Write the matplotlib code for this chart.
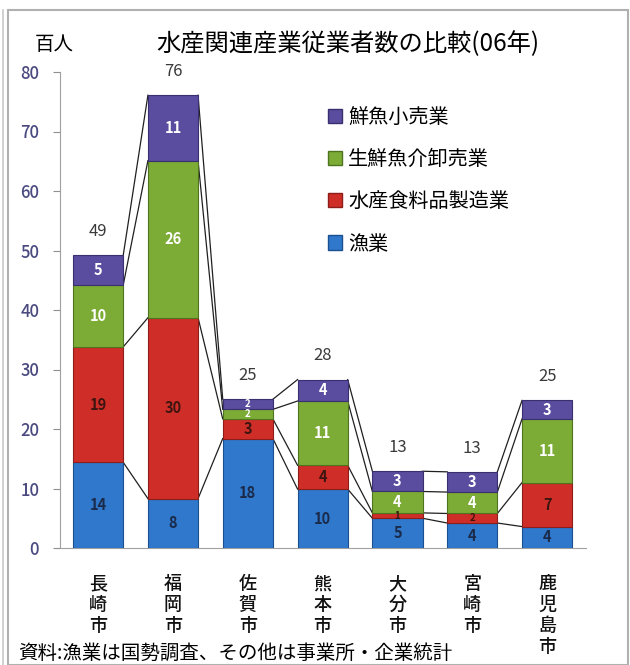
import numpy as np
import matplotlib.pyplot as plt
from matplotlib.patches import Rectangle
from matplotlib.lines import Line2D

plt.rcParams['font.family'] = ['Noto Sans CJK JP', 'DejaVu Sans']

# 都市名(縦書き)
cities = ['長崎市', '福岡市', '佐賀市', '熊本市', '大分市', '宮崎市', '鹿児島市']

# 業種別従業者数(百人)
gyogyo = [14.4, 8.3, 18.4, 9.9, 5.0, 4.2, 3.6]
seizo = [19.4, 30.4, 3.3, 4.0, 0.9, 1.6, 7.4]
oroshi = [10.4, 26.4, 1.6, 10.8, 3.6, 3.6, 10.7]
kouri = [5.0, 11.0, 1.7, 3.6, 3.4, 3.4, 3.1]

series_names = ['漁業', '水産食料品製造業', '生鮮魚介卸売業', '鮮魚小売業']
series = [gyogyo, seizo, oroshi, kouri]
colors = ['#2f78cc', '#cf2e28', '#7cac36', '#5a4c9e']
edge_colors = ['#1c4f8f', '#8e1d19', '#4f7420', '#3a3070']
label_colors = ['#1a2a48', '#3c1410', 'white', 'white']

yticks = [0, 10, 20, 30, 40, 50, 60, 70, 80]

fig = plt.figure(figsize=(6.3, 6.65), dpi=100)

# 外枠
fig.patches.append(Rectangle((8 / 630, 0), 620 / 630, 655 / 665, transform=fig.transFigure,
                             fill=False, edgecolor='#b0b0b0', linewidth=1.5))
fig.lines.append(Line2D([3 / 630, 3 / 630], [0, 655 / 665], transform=fig.transFigure,
                        color='#c8c8c8', linewidth=1.2))

ax = fig.add_axes([60 / 630, 117 / 665, 526 / 630, 476 / 665])

x = np.arange(len(cities))
width = 0.67
bottom = np.zeros(len(cities))
tops = []
for vals, col, ec, lc in zip(series, colors, edge_colors, label_colors):
    vals = np.array(vals)
    ax.bar(x, vals, width, bottom=bottom, color=col, edgecolor=ec, linewidth=0.8, zorder=3)
    for xi, b, v in zip(x, bottom, vals):
        fs = 10.5 if v >= 2.5 else 7
        ax.text(xi, b + v / 2, f'{round(v)}', ha='center', va='center',
                fontsize=fs, fontweight='bold', color=lc, zorder=4)
    bottom = bottom + vals
    tops.append(bottom.copy())

# 系列線
for t in tops:
    for i in range(len(cities) - 1):
        ax.plot([x[i] + width / 2, x[i + 1] - width / 2], [t[i], t[i + 1]],
                color='#202020', linewidth=0.9, zorder=2)

# 合計値
for xi, tot in zip(x, bottom):
    ax.annotate(f'{round(tot)}', (xi, tot), xytext=(0, 11), textcoords='offset points',
                ha='center', va='bottom', fontsize=12, color='#3a3a3a')

ax.set_xlim(-0.51, len(cities) - 0.48)
ax.set_ylim(0, 80)
ax.set_yticks(yticks)
ax.set_xticks([])
ax.tick_params(axis='y', direction='out', length=5, color='#909090',
               labelsize=12, labelcolor='#4a4a80', pad=10)
for lab in ax.get_yticklabels():
    lab.set_fontweight('medium')
for s in ['top', 'right']:
    ax.spines[s].set_visible(False)
ax.spines['left'].set_color('#a0a0a0')
ax.spines['bottom'].set_color('#a0a0a0')

# 都市名
for xi, name in zip(x, cities):
    ax.text(xi, -4.6, '\n'.join(name), ha='center', va='top', fontsize=13,
            fontweight='medium', linespacing=1.2, color='#111111')

# 凡例
handles = [Rectangle((0, 0), 1, 1, facecolor=c, edgecolor=e)
           for c, e in zip(colors[::-1], edge_colors[::-1])]
fig.legend(handles, series_names[::-1], loc='upper left', bbox_to_anchor=(310 / 630, 1 - 89 / 665),
           frameon=False, fontsize=14.5, handlelength=0.7, handleheight=0.7,
           handletextpad=0.3, labelspacing=1.05)

fig.text(54 / 630, 1 - 44 / 665, '百人', ha='center', va='center', fontsize=14)
fig.text(348 / 630, 1 - 44 / 665, '水産関連産業従業者数の比較(06年)', ha='center', va='center',
         fontsize=17.5)
fig.text(18 / 630, 1 - 653 / 665, '資料:漁業は国勢調査、その他は事業所・企業統計', ha='left',
         va='center', fontsize=14)

fig.savefig('out.png', dpi=100)
